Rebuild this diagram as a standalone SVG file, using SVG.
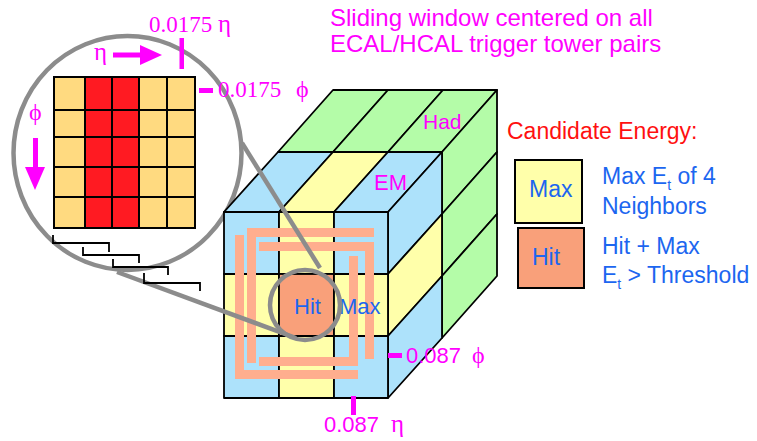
<svg xmlns="http://www.w3.org/2000/svg" width="757" height="441" viewBox="0 0 757 441">
<style>
.bl{fill:#ade2fb;stroke:#000;stroke-width:1.8;stroke-linejoin:round}
.ye{fill:#ffffaa;stroke:#000;stroke-width:1.8;stroke-linejoin:round}
.gr{fill:#b4fca8;stroke:#000;stroke-width:1.8;stroke-linejoin:round}
.hit{fill:#f9a07a;stroke:#000;stroke-width:1.8}
.or{fill:#ffda80;stroke:#000;stroke-width:2}
.rd{fill:#ff1a22;stroke:#000;stroke-width:2}
.br{fill:#ffae8e}
.mag{fill:#ff00ff}
.sans{font-family:"Liberation Sans",Arial,sans-serif}
.serif{font-family:"Liberation Serif","Times New Roman",serif}
.blue{fill:#1c66f0}
.gray{fill:none;stroke:#8c8c8c;stroke-width:4.5}
.stair{fill:none;stroke:#000;stroke-width:1.8}
</style>
<rect width="757" height="441" fill="#fff"/>

<g id="title" class="sans mag" font-size="24">
<text x="330" y="26">Sliding window centered on all</text>
<text x="330" y="52">ECAL/HCAL trigger tower pairs</text>
</g>

<g id="magnifier-lens">
<ellipse class="gray" cx="127.5" cy="153" rx="114" ry="117"/>
</g>

<g id="had-layer">
<polygon class="gr" points="278,152 333,152 388,90 333,90"/>
<polygon class="gr" points="333,152 388,152 443,90 388,90"/>
<polygon class="gr" points="388,152 442,152 497,90 443,90"/>
<polygon class="gr" points="442,152 497,90 497,152 442,214"/>
<polygon class="gr" points="442,214 497,152 497,214 442,276"/>
<polygon class="gr" points="442,276 497,214 497,276 442,338"/>
<text class="sans mag" font-size="21" x="423" y="129">Had</text>
</g>

<g id="em-layer">
<polygon class="bl" points="224,212 279,212 333,152 278,152"/>
<polygon class="ye" points="279,212 334,212 388,152 333,152"/>
<polygon class="bl" points="334,212 388,212 442,152 388,152"/>
<polygon class="bl" points="388,212 442,152 442,214 388,274"/>
<polygon class="ye" points="388,274 442,214 442,276 388,336"/>
<polygon class="bl" points="388,336 442,276 442,338 388,398"/>
<text class="sans mag" font-size="22" x="374" y="190">EM</text>
</g>

<g id="front-face">
<rect class="bl" x="224" y="212" width="55" height="62"/>
<rect class="ye" x="279" y="212" width="55" height="62"/>
<rect class="bl" x="334" y="212" width="54" height="62"/>
<rect class="ye" x="224" y="274" width="55" height="62"/>
<rect class="hit" x="279" y="274" width="55" height="62"/>
<rect class="ye" x="334" y="274" width="54" height="62"/>
<rect class="bl" x="224" y="336" width="55" height="62"/>
<rect class="ye" x="279" y="336" width="55" height="62"/>
<rect class="bl" x="334" y="336" width="54" height="62"/>
</g>

<g id="window-brackets">
<rect class="br" x="235" y="235" width="9" height="144"/>
<rect class="br" x="235" y="370" width="123" height="9"/>
<rect class="br" x="247" y="228" width="127" height="9"/>
<rect class="br" x="247" y="228" width="9" height="135"/>
<rect class="br" x="259" y="242" width="115" height="9"/>
<rect class="br" x="365" y="242" width="9" height="117"/>
<rect class="br" x="349" y="256" width="9" height="110"/>
<rect class="br" x="259" y="357" width="99" height="9"/>
</g>

<g id="cube-labels" class="sans blue" font-size="22">
<text x="294" y="314">Hit</text>
<text x="339" y="314">Max</text>
</g>

<g id="connectors">
<line class="gray" x1="242" y1="143" x2="320" y2="268"/>
<line class="gray" x1="117" y1="272" x2="296" y2="338"/>
<circle class="gray" cx="305" cy="305" r="35"/>
</g>

<g id="crystal-grid">
<rect class="or" x="54" y="77" width="31" height="33"/>
<rect class="rd" x="85" y="77" width="27" height="33"/>
<rect class="rd" x="112" y="77" width="27" height="33"/>
<rect class="or" x="139" y="77" width="28" height="33"/>
<rect class="or" x="167" y="77" width="28" height="33"/>
<rect class="or" x="54" y="110" width="31" height="27"/>
<rect class="rd" x="85" y="110" width="27" height="27"/>
<rect class="rd" x="112" y="110" width="27" height="27"/>
<rect class="or" x="139" y="110" width="28" height="27"/>
<rect class="or" x="167" y="110" width="28" height="27"/>
<rect class="or" x="54" y="137" width="31" height="30"/>
<rect class="rd" x="85" y="137" width="27" height="30"/>
<rect class="rd" x="112" y="137" width="27" height="30"/>
<rect class="or" x="139" y="137" width="28" height="30"/>
<rect class="or" x="167" y="137" width="28" height="30"/>
<rect class="or" x="54" y="167" width="31" height="30"/>
<rect class="rd" x="85" y="167" width="27" height="30"/>
<rect class="rd" x="112" y="167" width="27" height="30"/>
<rect class="or" x="139" y="167" width="28" height="30"/>
<rect class="or" x="167" y="167" width="28" height="30"/>
<rect class="or" x="54" y="197" width="31" height="31"/>
<rect class="rd" x="85" y="197" width="27" height="31"/>
<rect class="rd" x="112" y="197" width="27" height="31"/>
<rect class="or" x="139" y="197" width="28" height="31"/>
<rect class="or" x="167" y="197" width="28" height="31"/>
</g>

<g id="stairs">
<polyline class="stair" points="53,235 53,243 109,243 109,252"/>
<polyline class="stair" points="83,247 83,255 139,255 139,263"/>
<polyline class="stair" points="113,259 113,267 168,267 168,275"/>
<polyline class="stair" points="144,273 144,283 200,283 200,291"/>
</g>

<g id="grid-annotations" class="mag">
<text class="serif" font-size="23" x="149" y="32">0.0175</text>
<text class="serif" font-size="25" x="218" y="32">η</text>
<rect x="179.5" y="38" width="4.5" height="31"/>
<text class="serif" font-size="25" x="94" y="60">η</text>
<rect x="113" y="52.5" width="28" height="5"/>
<polygon points="140,45 162,55 140,65"/>
<rect x="199" y="88" width="14" height="5"/>
<text class="serif" font-size="23" x="218" y="97">0.0175</text>
<text class="serif" font-size="24" x="296" y="97">ϕ</text>
<text class="serif" font-size="24" x="29" y="120">ϕ</text>
<rect x="33" y="138" width="5" height="30"/>
<polygon points="25,167 45,167 35,190"/>
</g>

<g id="tower-annotations" class="mag">
<rect x="388" y="353" width="14" height="5"/>
<text class="sans" font-size="22" x="406" y="363">0.087</text>
<text class="serif" font-size="24" x="472" y="363">ϕ</text>
<rect x="351" y="396" width="5" height="19"/>
<text class="sans" font-size="22" x="324" y="432">0.087</text>
<text class="serif" font-size="25" x="391" y="432">η</text>
</g>

<g id="legend">
<text class="sans" font-size="23" fill="#ff1010" x="507" y="139">Candidate Energy:</text>
<g id="legend-max">
<rect x="515" y="160" width="67" height="63" fill="#ffffaa" stroke="#000" stroke-width="2"/>
<text class="sans blue" font-size="23" x="529" y="197">Max</text>
<text class="sans blue" font-size="23" x="602" y="184">Max E<tspan font-size="14" dy="6">t</tspan><tspan dy="-6"> of 4</tspan></text>
<text class="sans blue" font-size="23" x="602" y="214">Neighbors</text>
</g>
<g id="legend-hit">
<rect x="518" y="228" width="66" height="60" fill="#f9a07a" stroke="#000" stroke-width="2"/>
<text class="sans blue" font-size="23" x="532" y="265">Hit</text>
<text class="sans blue" font-size="23" x="602" y="254">Hit + Max</text>
<text class="sans blue" font-size="23" x="602" y="283">E<tspan font-size="14" dy="6">t</tspan><tspan dy="-6"> &gt; Threshold</tspan></text>
</g>
</g>
</svg>
